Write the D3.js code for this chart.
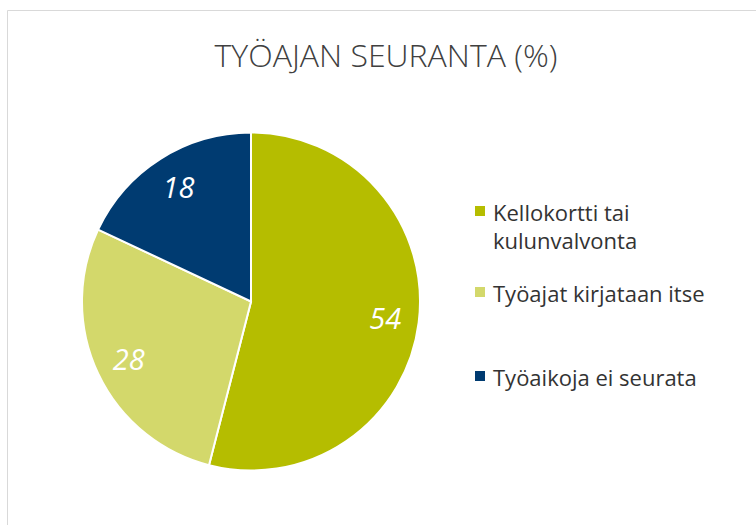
<!DOCTYPE html>
<html><head><meta charset="utf-8">
<script src="https://cdn.jsdelivr.net/npm/d3@7"></script>
<style>body{margin:0;background:#fff}svg{display:block}</style>
</head><body>
<svg id="c" width="756" height="525"></svg>
<script>
const categories = ["Kellokortti tai kulunvalvonta", "Työajat kirjataan itse", "Työaikoja ei seurata"];
const legendLines = [["Kellokortti tai", "kulunvalvonta"], ["Työajat kirjataan itse"], ["Työaikoja ei seurata"]];
const values = [54, 28, 18];
const colors = ["#b5bd00", "#d3d86b", "#003b71"];
const title = "TYÖAJAN SEURANTA (%)";

const svg = d3.select("#c");
svg.append("path").attr("d", "M7.5,525 V10.5 H756").attr("fill", "none").attr("stroke", "#d9d9d9").attr("stroke-width", 1);

svg.append("text").attr("x", 386).attr("y", 67).attr("text-anchor", "middle")
  .attr("font-family", "'Open Sans', sans-serif").attr("font-weight", 300)
  .attr("font-size", 32).attr("fill", "#404040").text(title);

const cx = 251, cy = 301.5, r = 169;
const pie = d3.pie().sort(null).value(d => d);
const arc = d3.arc().innerRadius(0).outerRadius(r);
const labelArc = d3.arc().innerRadius(r * 0.8).outerRadius(r * 0.8);
const g = svg.append("g").attr("transform", `translate(${cx},${cy})`);
const arcs = pie(values);
g.selectAll("path").data(arcs).join("path")
  .attr("d", arc).attr("fill", (d, i) => colors[i])
  .attr("stroke", "#fff").attr("stroke-width", 2);
g.selectAll("text").data(arcs).join("text")
  .attr("transform", d => `translate(${labelArc.centroid(d)})`)
  .attr("text-anchor", "middle").attr("dy", "0.36em")
  .attr("font-family", "'Open Sans', sans-serif").attr("font-style", "italic")
  .attr("font-size", 29).attr("fill", "#fff").text(d => d.data);

const legendY = [221, 302, 386];
const lg = svg.append("g");
categories.forEach((c, i) => {
  const y = legendY[i];
  lg.append("rect").attr("x", 475).attr("y", y - 15).attr("width", 10).attr("height", 10).attr("fill", colors[i]);
  const t = lg.append("text").attr("x", 493).attr("y", y)
    .attr("font-family", "'Open Sans', sans-serif").attr("font-size", 22).attr("fill", "#333");
  legendLines[i].forEach((l, j) => t.append("tspan").attr("x", 493).attr("dy", j ? 28 : 0).text(l));
});
</script>
</body></html>
